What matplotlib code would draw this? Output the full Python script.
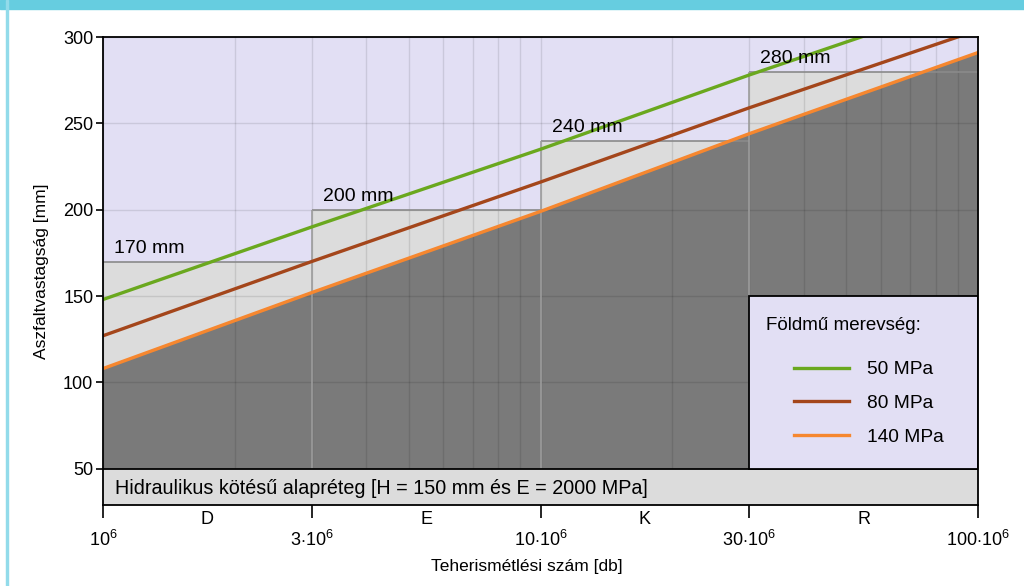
import numpy as np
import matplotlib
matplotlib.use("Agg")
from matplotlib import pyplot as plt
from matplotlib.patches import Rectangle
from matplotlib.ticker import LogLocator, NullFormatter

plt.rcParams['font.family'] = ['Liberation Sans', 'DejaVu Sans']
plt.rcParams['mathtext.fontset'] = 'custom'
plt.rcParams['mathtext.rm'] = 'Liberation Sans'
plt.rcParams['mathtext.it'] = 'Liberation Sans'
plt.rcParams['font.size'] = 12.5

# load repetitions (tick positions) and thickness values [mm]
n_points = [1e6, 3e6, 10e6, 30e6, 100e6]
tick_labels = [r'$10^6$', r'$3{\cdot}10^6$', r'$10{\cdot}10^6$', r'$30{\cdot}10^6$', r'$100{\cdot}10^6$']
mpa_50 = [148, 190, 235, 278, 323]
mpa_80 = [127, 170, 216, 259, 304]
mpa_140 = [108, 152, 199, 244, 291]

# traffic classes and minimum thickness steps
classes = ['D', 'E', 'K', 'R']
step_heights = [170, 200, 240, 280]
step_labels = ['170 mm', '200 mm', '240 mm', '280 mm']

base_top = 50
y_bottom = 29

lavender = '#e2dff4'
light_grey = '#dcdcdc'
dark_grey = '#7a7a7a'

fig = plt.figure(figsize=(10.24, 5.86), dpi=100)
fig.patches.append(Rectangle((0, 1 - 9 / 586), 1, 9 / 586, transform=fig.transFigure,
                             color='#66cde0', zorder=0))
fig.patches.append(Rectangle((6 / 1024, 0), 2 / 1024, 1, transform=fig.transFigure,
                             color='#92dbea', zorder=0))

ax = fig.add_axes([103 / 1024, 1 - 505 / 586, 875 / 1024, 468 / 586])
ax.set_facecolor(lavender)
ax.set_xscale('log')
ax.set_xlim(n_points[0], n_points[-1])
ax.set_ylim(y_bottom, 300)

# light grey: below the required thickness steps
step_x = n_points
ax.fill_between(step_x, base_top, step_heights + [step_heights[-1]], step='post',
                color=light_grey, lw=0, zorder=1)
# dark grey: below the 140 MPa line
ax.fill_between(n_points, base_top, mpa_140, color=dark_grey, lw=0, zorder=1.2)

# step outlines
ax.hlines(step_heights, step_x[:-1], step_x[1:], color='#8a8a8a', lw=1.2, zorder=3)
ax.vlines(step_x[1:-1], base_top, step_heights[1:], color='#9c9c9c', lw=1.2, zorder=3)

ax.plot(n_points, mpa_50, color='#6aa81e', lw=2.4, label='50 MPa', zorder=4)
ax.plot(n_points, mpa_80, color='#a4461b', lw=2.4, label='80 MPa', zorder=4)
ax.plot(n_points, mpa_140, color='#f6872f', lw=2.4, label='140 MPa', zorder=4)

for x0, h, lab in zip(step_x[:-1], step_heights, step_labels):
    ax.annotate(lab, xy=(x0, h), xytext=(11, 5), textcoords='offset pixels',
                ha='left', va='bottom', fontsize=14, zorder=6)

# grid
ax.set_axisbelow(False)
ax.xaxis.set_minor_locator(LogLocator(base=10, subs=np.arange(2, 10)))
ax.xaxis.set_minor_formatter(NullFormatter())
ax.grid(True, which='both', color='black', alpha=0.1, lw=1)
ax.tick_params(which='minor', length=0)

# hydraulic base layer band
ax.axhspan(y_bottom, base_top, color=light_grey, zorder=5)
ax.axhline(base_top, color='black', lw=1.3, zorder=5.5)
ax.annotate('Hidraulikus kötésű alapréteg [H = 150 mm és E = 2000 MPa]',
            xy=(0, (38.5 - y_bottom) / (300 - y_bottom)), xycoords='axes fraction',
            xytext=(12, 0), textcoords='offset pixels', ha='left', va='center',
            fontsize=14.2, zorder=6)

# legend box
ax.add_patch(Rectangle((n_points[3], base_top), n_points[4] - n_points[3], 100,
                       facecolor=lavender, edgecolor='black', lw=1.3, zorder=5.5))
ax.annotate('Földmű merevség:', xy=(n_points[3], 150), xytext=(17, -29),
            textcoords='offset pixels', ha='left', va='center', fontsize=13.5, zorder=6)
leg = ax.legend(loc='upper left', bbox_to_anchor=((794 - 103) / 875, (505 - 361) / 468),
                frameon=False, borderpad=0, borderaxespad=0, handlelength=2.9,
                handletextpad=0.9, labelspacing=0.85, fontsize=13.75)
leg.set_zorder(7)

# axes
ax.set_xticks(n_points)
ax.set_xticklabels(tick_labels)
ax.set_yticks([50, 100, 150, 200, 250, 300])
ax.tick_params(axis='x', which='major', length=9, width=1.2, pad=9, direction='out',
               labelsize=13)
ax.tick_params(axis='y', which='major', length=5, width=1.2, pad=2, labelsize=13)
for sp in ax.spines.values():
    sp.set_linewidth(1.3)
    sp.set_zorder(8)

for i, c in enumerate(classes):
    mid = np.sqrt(n_points[i] * n_points[i + 1])
    ax.annotate(c, xy=(mid, 0), xycoords=('data', 'axes fraction'),
                xytext=(0, -14), textcoords='offset pixels', ha='center', va='center',
                fontsize=13)

ax.set_xlabel('Teherismétlési szám [db]', labelpad=6)
ax.xaxis.set_label_coords((527 - 103) / 875, -0.115)
ax.set_ylabel('Aszfaltvastagság [mm]', labelpad=10)

fig.savefig('out.png', dpi=100)
